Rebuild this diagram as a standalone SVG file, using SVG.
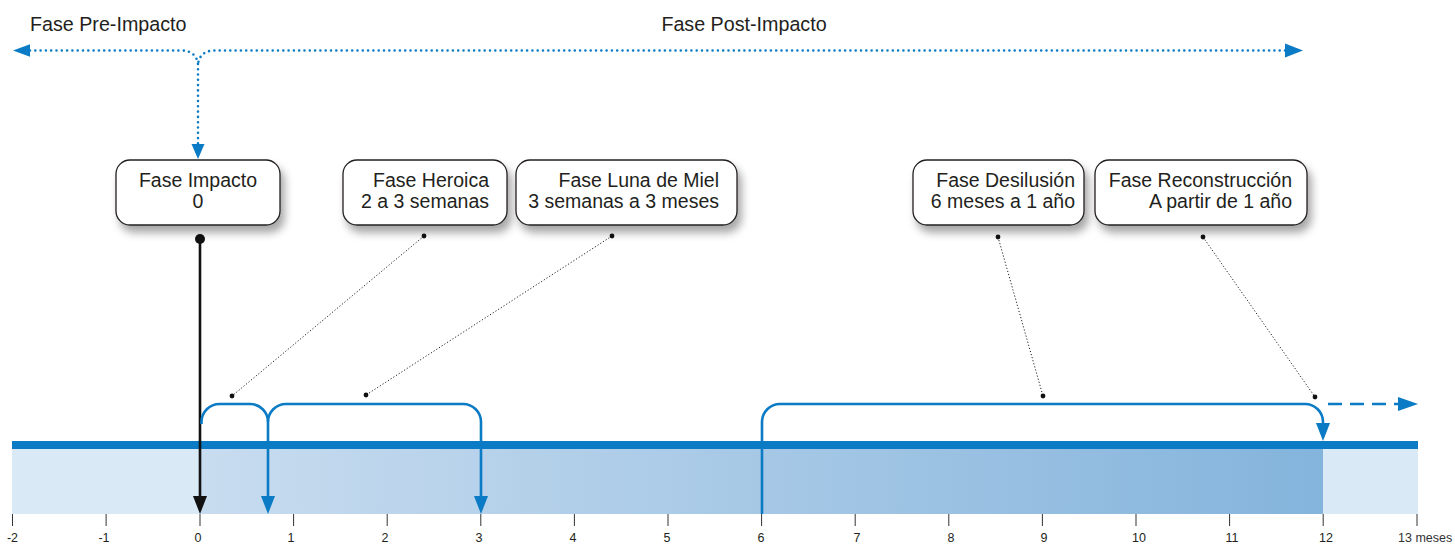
<svg xmlns="http://www.w3.org/2000/svg" width="1455" height="544" viewBox="0 0 1455 544">
<defs>
<style>
text{font-family:"Liberation Sans",Arial,sans-serif;fill:#231f20}
.top{font-size:19.7px}
.bx{font-size:19.5px}
.box{fill:#fff;stroke:#231f20;stroke-width:1.3;filter:url(#sh)}
.tick{stroke:#333;stroke-width:1}
.tl{font-size:12.5px;text-anchor:middle;fill:#333}
.blue{fill:none;stroke:#0a7bc4;stroke-width:2.6}
.dotb{fill:none;stroke:#0a7bc4;stroke-width:2.6;stroke-dasharray:0 5.3;stroke-linecap:round}
.lead{fill:none;stroke:#231f20;stroke-width:1;stroke-dasharray:1.2 2}
.ah{fill:#0a7bc4}
</style>
<filter id="sh" x="-20%" y="-20%" width="150%" height="170%">
<feDropShadow dx="4" dy="7" stdDeviation="4" flood-color="#000" flood-opacity="0.35"/>
</filter>
<linearGradient id="g" x1="200" y1="0" x2="1323" y2="0" gradientUnits="userSpaceOnUse">
<stop offset="0" stop-color="#c8dcef"/>
<stop offset="1" stop-color="#84b4dc"/>
</linearGradient>
</defs>

<g id="timeline">
<rect x="12" y="449" width="1406" height="65" fill="#d9e9f6"/>
<rect x="200" y="449" width="1123" height="65" fill="url(#g)"/>
<rect x="12" y="441" width="1406" height="8" fill="#0a7bc4"/>
<g class="tick">
<line x1="12.5" y1="514" x2="12.5" y2="526"/>
<line x1="106.1" y1="514" x2="106.1" y2="526"/>
<line x1="200" y1="514" x2="200" y2="526"/>
<line x1="293.6" y1="514" x2="293.6" y2="526"/>
<line x1="387.2" y1="514" x2="387.2" y2="526"/>
<line x1="480.8" y1="514" x2="480.8" y2="526"/>
<line x1="574.4" y1="514" x2="574.4" y2="526"/>
<line x1="668" y1="514" x2="668" y2="526"/>
<line x1="761.6" y1="514" x2="761.6" y2="526"/>
<line x1="855.2" y1="514" x2="855.2" y2="526"/>
<line x1="948.8" y1="514" x2="948.8" y2="526"/>
<line x1="1042.4" y1="514" x2="1042.4" y2="526"/>
<line x1="1136" y1="514" x2="1136" y2="526"/>
<line x1="1229.6" y1="514" x2="1229.6" y2="526"/>
<line x1="1323.2" y1="514" x2="1323.2" y2="526"/>
<line x1="1417" y1="514" x2="1417" y2="526"/>
</g>
<g class="tl">
<text x="12.5" y="542">-2</text>
<text x="104" y="542">-1</text>
<text x="198" y="542">0</text>
<text x="291" y="542">1</text>
<text x="385" y="542">2</text>
<text x="479" y="542">3</text>
<text x="573" y="542">4</text>
<text x="667" y="542">5</text>
<text x="761" y="542">6</text>
<text x="857" y="542">7</text>
<text x="951" y="542">8</text>
<text x="1044" y="542">9</text>
<text x="1139" y="542">10</text>
<text x="1232" y="542">11</text>
<text x="1326" y="542">12</text>
</g>
<text x="1398" y="542" style="font-size:12.5px;fill:#333">13 meses</text>
</g>

<g id="phase-labels">
<text class="top" x="30" y="30.5">Fase Pre-Impacto</text>
<text class="top" x="744" y="30.5" text-anchor="middle">Fase Post-Impacto</text>
</g>

<g id="connectors">
<path class="dotb" d="M30,50.5 H182 Q196,51 198,64 V145"/>
<path class="dotb" d="M1285,50.5 H214 Q200,51 198,64"/>
<polygon class="ah" points="13,50.5 30,44.2 30,56.8"/>
<polygon class="ah" points="1303,50.5 1285,43.5 1285,57.5"/>
<polygon class="ah" points="198,159 191.5,144 204.5,144"/>

<line x1="200" y1="239" x2="200" y2="498" stroke="#111" stroke-width="2.6"/>
<circle cx="200" cy="239" r="5" fill="#111"/>
<polygon fill="#111" points="200,514 193,496 207,496"/>

<path class="blue" d="M201.5,424 V422 A18,18 0 0 1 219.5,404 H250 A18,18 0 0 1 268,422 V498"/>
<path class="blue" d="M268,422 A18,18 0 0 1 286,404 H463 A18,18 0 0 1 481,422 V498"/>
<path class="blue" d="M762,514 V422 A18,18 0 0 1 780,404 H1305 A18,18 0 0 1 1323,422 V426"/>
<polygon class="ah" points="268,514 261,496 275,496"/>
<polygon class="ah" points="481,514 474,496 488,496"/>
<polygon class="ah" points="1323,441 1316,423 1330,423"/>
<path class="blue" d="M1328,404 H1398" style="stroke-dasharray:14 8"/>
<polygon class="ah" points="1418,404 1398,397 1398,411"/>

<line class="lead" x1="424" y1="236" x2="232" y2="396"/>
<line class="lead" x1="612" y1="236" x2="366" y2="395"/>
<line class="lead" x1="998" y1="237" x2="1043" y2="396"/>
<line class="lead" x1="1203" y1="237" x2="1315" y2="397"/>
<g fill="#111">
<circle cx="424" cy="236" r="2.4"/><circle cx="232" cy="396" r="2.4"/>
<circle cx="612" cy="236" r="2.4"/><circle cx="366" cy="395" r="2.4"/>
<circle cx="998" cy="237" r="2.4"/><circle cx="1043" cy="396" r="2.4"/>
<circle cx="1203" cy="237" r="2.4"/><circle cx="1315" cy="397" r="2.4"/>
</g>
</g>

<g id="node-impacto">
<rect class="box" x="116" y="160" width="164" height="65" rx="14"/>
<text class="bx" x="198" y="186.5" text-anchor="middle">Fase Impacto</text>
<text class="bx" x="198" y="208" text-anchor="middle">0</text>
</g>
<g id="node-heroica">
<rect class="box" x="343" y="160" width="164" height="65" rx="14"/>
<text class="bx" x="489" y="186.5" text-anchor="end">Fase Heroica</text>
<text class="bx" x="489" y="208" text-anchor="end">2 a 3 semanas</text>
</g>
<g id="node-luna">
<rect class="box" x="516" y="160" width="221" height="65" rx="14"/>
<text class="bx" x="719" y="186.5" text-anchor="end">Fase Luna de Miel</text>
<text class="bx" x="719" y="208" text-anchor="end">3 semanas a 3 meses</text>
</g>
<g id="node-desilusion">
<rect class="box" x="913" y="160" width="171" height="65" rx="14"/>
<text class="bx" x="1075" y="186.5" text-anchor="end">Fase Desilusión</text>
<text class="bx" x="1075" y="208" text-anchor="end">6 meses a 1 año</text>
</g>
<g id="node-reconstruccion">
<rect class="box" x="1095" y="160" width="212" height="65" rx="14"/>
<text class="bx" x="1292" y="186.5" text-anchor="end">Fase Reconstrucción</text>
<text class="bx" x="1292" y="208" text-anchor="end">A partir de 1 año</text>
</g>
</svg>
